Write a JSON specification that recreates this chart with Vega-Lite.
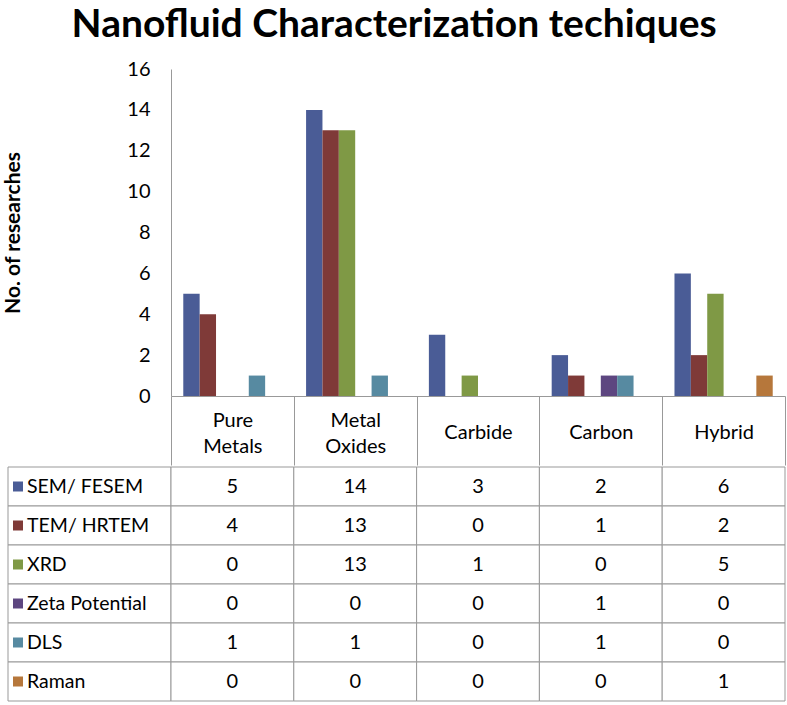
{
  "$schema": "https://vega.github.io/schema/vega-lite/v6.json",
  "padding": {"left": 2, "top": 6, "right": 0, "bottom": 0},
  "title": {"text": "Nanofluid Characterization techiques", "font": "Lato", "fontSize": 39, "fontWeight": "bold", "color": "#000000", "anchor": "middle", "offset": 14},
  "config": {"view": {"stroke": null}, "font": "Lato", "concat": {"spacing": 0}},
  "spacing": 0,
  "resolve": {"scale": {"x": "independent", "y": "independent"}},
  "data": {"values": [
    {"category": "Pure Metals", "technique": "SEM/ FESEM", "value": 5},
    {"category": "Pure Metals", "technique": "TEM/ HRTEM", "value": 4},
    {"category": "Pure Metals", "technique": "XRD", "value": 0},
    {"category": "Pure Metals", "technique": "Zeta Potential", "value": 0},
    {"category": "Pure Metals", "technique": "DLS", "value": 1},
    {"category": "Pure Metals", "technique": "Raman", "value": 0},
    {"category": "Metal Oxides", "technique": "SEM/ FESEM", "value": 14},
    {"category": "Metal Oxides", "technique": "TEM/ HRTEM", "value": 13},
    {"category": "Metal Oxides", "technique": "XRD", "value": 13},
    {"category": "Metal Oxides", "technique": "Zeta Potential", "value": 0},
    {"category": "Metal Oxides", "technique": "DLS", "value": 1},
    {"category": "Metal Oxides", "technique": "Raman", "value": 0},
    {"category": "Carbide", "technique": "SEM/ FESEM", "value": 3},
    {"category": "Carbide", "technique": "TEM/ HRTEM", "value": 0},
    {"category": "Carbide", "technique": "XRD", "value": 1},
    {"category": "Carbide", "technique": "Zeta Potential", "value": 0},
    {"category": "Carbide", "technique": "DLS", "value": 0},
    {"category": "Carbide", "technique": "Raman", "value": 0},
    {"category": "Carbon", "technique": "SEM/ FESEM", "value": 2},
    {"category": "Carbon", "technique": "TEM/ HRTEM", "value": 1},
    {"category": "Carbon", "technique": "XRD", "value": 0},
    {"category": "Carbon", "technique": "Zeta Potential", "value": 1},
    {"category": "Carbon", "technique": "DLS", "value": 1},
    {"category": "Carbon", "technique": "Raman", "value": 0},
    {"category": "Hybrid", "technique": "SEM/ FESEM", "value": 6},
    {"category": "Hybrid", "technique": "TEM/ HRTEM", "value": 2},
    {"category": "Hybrid", "technique": "XRD", "value": 5},
    {"category": "Hybrid", "technique": "Zeta Potential", "value": 0},
    {"category": "Hybrid", "technique": "DLS", "value": 0},
    {"category": "Hybrid", "technique": "Raman", "value": 1}
  ]},
  "vconcat": [
    {
      "width": 614,
      "height": 327,
      "mark": {"type": "bar"},
      "encoding": {
        "x": {
          "field": "category", "type": "nominal",
          "scale": {"domain": ["Pure Metals", "Metal Oxides", "Carbide", "Carbon", "Hybrid"], "paddingInner": 0, "paddingOuter": 0},
          "axis": {
            "title": null, "labelAngle": 0, "labelFontSize": 20, "labelColor": "#000000",
            "labelExpr": "datum.label == 'Pure Metals' ? ['Pure', 'Metals'] : datum.label == 'Metal Oxides' ? ['Metal', 'Oxides'] : datum.label",
            "labelBaseline": "middle",
            "labelPadding": {"condition": {"test": "datum.value == 'Pure Metals' || datum.value == 'Metal Oxides'", "value": -45}, "value": -33},
            "labelLineHeight": 26,
            "tickBand": "extent", "tickSize": 69, "tickColor": "#999999", "domainColor": "#999999"
          }
        },
        "xOffset": {
          "field": "technique", "type": "nominal",
          "scale": {"domain": ["SEM/ FESEM", "TEM/ HRTEM", "XRD", "Zeta Potential", "DLS", "Raman"], "paddingInner": 0, "paddingOuter": 0.75}
        },
        "y": {
          "field": "value", "type": "quantitative",
          "scale": {"domain": [0, 16], "nice": false},
          "axis": {
            "values": [0, 2, 4, 6, 8, 10, 12, 14, 16], "title": "No. of researches",
            "titleFontSize": 21, "titleFontWeight": "bold", "titleColor": "#000000", "titlePadding": 103,
            "labelFontSize": 20, "labelPadding": 21, "labelColor": "#000000", "tickSize": 0, "grid": false, "domainColor": "#999999"
          }
        },
        "color": {
          "field": "technique", "type": "nominal",
          "scale": {"domain": ["SEM/ FESEM", "TEM/ HRTEM", "XRD", "Zeta Potential", "DLS", "Raman"], "range": ["#4A5C96", "#7F3A38", "#7F9945", "#5D4680", "#578AA1", "#B6773B"]},
          "legend": null
        }
      }
    },
    {
      "width": 614,
      "height": 234,
      "encoding": {
        "y": {"field": "technique", "type": "nominal", "scale": {"domain": ["SEM/ FESEM", "TEM/ HRTEM", "XRD", "Zeta Potential", "DLS", "Raman"], "paddingInner": 0, "paddingOuter": 0}, "axis": null}
      },
      "layer": [
        {
          "transform": [{"filter": "datum.category == 'Pure Metals'"}],
          "mark": {"type": "rect", "fill": "#ffffff", "stroke": "#999999", "strokeWidth": 1},
          "encoding": {"x": {"value": -163}, "x2": {"value": 0}}
        },
        {
          "transform": [{"filter": "datum.category == 'Pure Metals'"}],
          "mark": {"type": "square", "size": 100, "opacity": 1},
          "encoding": {"x": {"value": -153}, "color": {"field": "technique", "type": "nominal", "legend": null}}
        },
        {
          "transform": [{"filter": "datum.category == 'Pure Metals'"}],
          "mark": {"type": "text", "align": "left", "baseline": "middle", "fontSize": 19.5, "color": "#000000"},
          "encoding": {"x": {"value": -144}, "text": {"field": "technique"}}
        },
        {
          "mark": {"type": "rect", "fill": "#ffffff", "stroke": "#999999", "strokeWidth": 1},
          "encoding": {"x": {"field": "category", "type": "nominal", "scale": {"domain": ["Pure Metals", "Metal Oxides", "Carbide", "Carbon", "Hybrid"], "paddingInner": 0, "paddingOuter": 0}, "axis": null}}
        },
        {
          "mark": {"type": "text", "fontSize": 20, "color": "#000000", "baseline": "middle"},
          "encoding": {"x": {"field": "category", "type": "nominal"}, "text": {"field": "value", "type": "quantitative"}}
        }
      ]
    }
  ]
}
